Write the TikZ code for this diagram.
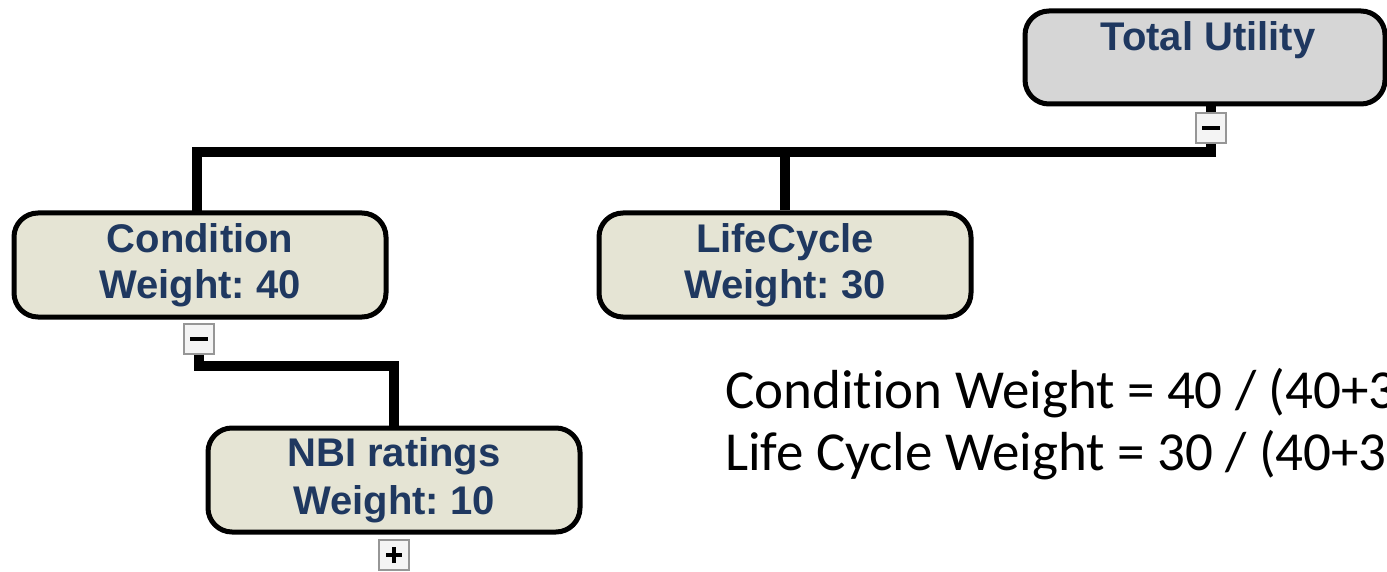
\documentclass[tikz,border=0pt]{standalone}
\usepackage{fontspec}
\setmainfont{Liberation Sans}
\newfontfamily\calfont[Ligatures=NoCommon]{Carlito}
\definecolor{boxfill}{RGB}{229,228,212}
\definecolor{topfill}{RGB}{214,214,214}
\definecolor{navy}{RGB}{31,56,96}
\definecolor{iconedge}{RGB}{150,150,150}
\definecolor{iconfill}{RGB}{244,244,244}
\frenchspacing
\begin{document}
\begin{tikzpicture}[x=1pt,y=-1pt,
  tbox/.style={draw=black,line width=5pt,rounded corners=24pt,fill=boxfill,
    minimum width=372pt,minimum height=104pt,inner sep=0pt,
    text=navy,align=center,font=\bfseries\fontsize{40}{46}\selectfont},
  icon/.style={draw=iconedge,line width=2pt,fill=iconfill,minimum width=30pt,minimum height=30pt,inner sep=0pt},
  conn/.style={line width=10pt,line join=miter,line cap=butt},
  formula/.style={anchor=base west,inner sep=0pt,font=\calfont\fontsize{55}{62}\selectfont}
]
\clip (0,0) rectangle (1387,572);
\fill[white] (0,0) rectangle (1387,572);

% boxes
\node[tbox,fill=topfill,minimum width=360pt,minimum height=93pt] (tu) at (1205,57.5) {};
\node[text=navy,font=\bfseries\fontsize{40}{46}\selectfont,inner sep=0pt] (tut) at (1208,40) {Total Utility};
\node[tbox] (cond) at (200,265) {Condition\\Weight: 40};
\node[tbox] (lc) at (785,265) {LifeCycle\\Weight: 30};
\node[tbox,font=\bfseries\fontsize{40}{48}\selectfont] (nbi) at (394,480) {NBI ratings\\Weight: 10};

% icons
\node[icon] (m1) at (1211,128) {};
\node[icon] (m2) at (199,339) {};
\node[icon] (p1) at (394,555) {};
\draw[line width=4pt] ([xshift=-9pt]m1.center) -- ([xshift=9pt]m1.center);
\draw[line width=4pt] ([xshift=-9pt]m2.center) -- ([xshift=9pt]m2.center);
\draw[line width=3.5pt] ([xshift=-8pt]p1.center) -- ([xshift=8pt]p1.center);
\draw[line width=3.5pt] ([yshift=-8pt]p1.center) -- ([yshift=8pt]p1.center);

% connectors
\coordinate (j1) at (197,152.5);
\coordinate (j2) at (785,152.5);
\coordinate (j3) at (1216,152.5);
\draw[conn] (tu.south -| m1.north) -- (m1.north);
\draw[conn] (m1.south) -- (1211,152.5);
\draw[conn] (j3) -- ([xshift=-5pt]j1) ;
\draw[conn] ([yshift=-5pt]j1) -- (197,212);
\draw[conn] ([yshift=-5pt]j2) -- (lc.north);
\draw[conn] (m2.south) |- (394,366) -- (nbi.north);

% formulas
\node[formula] (f1) at (725,408) {Condition Weight = 40 / (40+30)};
\node[formula] (f2) at (725,470) {Life Cycle Weight = 30 / (40+30)};
\end{tikzpicture}
\end{document}
